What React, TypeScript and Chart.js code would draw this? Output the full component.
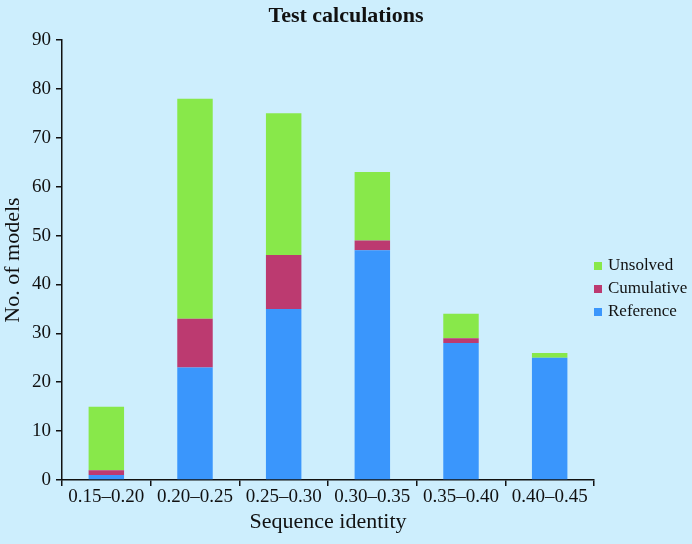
import React, { useEffect, useRef } from "react";
import { Chart, registerables } from "chart.js";

Chart.register(...registerables);

const categories = ["0.15–0.20", "0.20–0.25", "0.25–0.30", "0.30–0.35", "0.35–0.40", "0.40–0.45"];
const referenceValues = [1, 23, 35, 47, 28, 25];
const cumulativeValues = [1, 10, 11, 2, 1, 0];
const unsolvedValues = [13, 45, 29, 14, 5, 1];
const yTicks = [0, 10, 20, 30, 40, 50, 60, 70, 80, 90];
const titleText = "Test calculations";

const BG = "#cdeefd";
const BLUE = "#3a96fc";
const CRIMSON = "#bc3a70";
const GREEN = "#88e84a";
const INK = "#111111";
const SERIF = "'Liberation Serif', 'Times New Roman', serif";

const legendItems = [
  { label: "Unsolved", color: GREEN },
  { label: "Cumulative", color: CRIMSON },
  { label: "Reference", color: BLUE },
];

const overlayPlugin = {
  id: "overlay",
  afterDraw(chart: any) {
    const { ctx, chartArea, width } = chart;
    ctx.save();
    ctx.fillStyle = INK;
    ctx.font = `bold 22px ${SERIF}`;
    ctx.textAlign = "center";
    ctx.textBaseline = "alphabetic";
    ctx.fillText(titleText, width / 2, 22);

    ctx.font = `17px ${SERIF}`;
    ctx.textBaseline = "middle";
    ctx.textAlign = "left";
    legendItems.forEach((item, i) => {
      const cy = chartArea.top + 226 + i * 23;
      ctx.fillStyle = item.color;
      ctx.fillRect(chartArea.right, cy - 4, 8, 8);
      ctx.fillStyle = INK;
      ctx.fillText(item.label, chartArea.right + 14, cy);
    });
    ctx.restore();
  },
};

export default function App() {
  const ref = useRef<HTMLCanvasElement>(null);

  useEffect(() => {
    document.body.style.margin = "0";
    document.body.style.background = BG;
    const chart = new Chart(ref.current!, {
      type: "bar",
      data: {
        labels: categories,
        datasets: [
          { label: "Reference", data: referenceValues, backgroundColor: BLUE, barPercentage: 0.4, categoryPercentage: 1 },
          { label: "Cumulative", data: cumulativeValues, backgroundColor: CRIMSON, barPercentage: 0.4, categoryPercentage: 1 },
          { label: "Unsolved", data: unsolvedValues, backgroundColor: GREEN, barPercentage: 0.4, categoryPercentage: 1 },
        ],
      },
      options: {
        animation: false,
        responsive: false,
        layout: { padding: { left: 0, right: 98, top: 40, bottom: 0 } },
        plugins: {
          legend: { display: false },
          tooltip: { enabled: false },
          title: { display: false },
        },
        scales: {
          x: {
            stacked: true,
            afterFit: (s: any) => { s.height = 64; },
            grid: { display: true, offset: true, drawOnChartArea: false, drawTicks: true, tickLength: 6, color: INK, lineWidth: 1.5 },
            border: { display: true, color: INK, width: 1.5 },
            ticks: { color: INK, font: { family: SERIF, size: 19 }, padding: 0, maxRotation: 0, autoSkip: false },
            title: { display: true, text: "Sequence identity", color: INK, font: { family: SERIF, size: 22 }, padding: { top: 0, bottom: 9 } },
          },
          y: {
            stacked: true,
            min: 0,
            max: 90,
            afterFit: (s: any) => { s.width = 62; },
            afterBuildTicks: (s: any) => { s.ticks = yTicks.map((v) => ({ value: v })); },
            grid: { display: true, drawOnChartArea: false, drawTicks: true, tickLength: 6, color: INK, lineWidth: 1.5 },
            border: { display: true, color: INK, width: 1.5 },
            ticks: { color: INK, font: { family: SERIF, size: 19 }, padding: 5 },
            title: { display: true, text: "No. of models", color: INK, font: { family: SERIF, size: 22 }, padding: { top: 0, bottom: 0 } },
          },
        },
      },
      plugins: [overlayPlugin],
    });
    return () => chart.destroy();
  }, []);

  return (
    <div style={{ position: "fixed", left: 0, top: 0, width: 692, height: 544, background: BG }}>
      <canvas ref={ref} width={692} height={544} style={{ display: "block" }} />
    </div>
  );
}
